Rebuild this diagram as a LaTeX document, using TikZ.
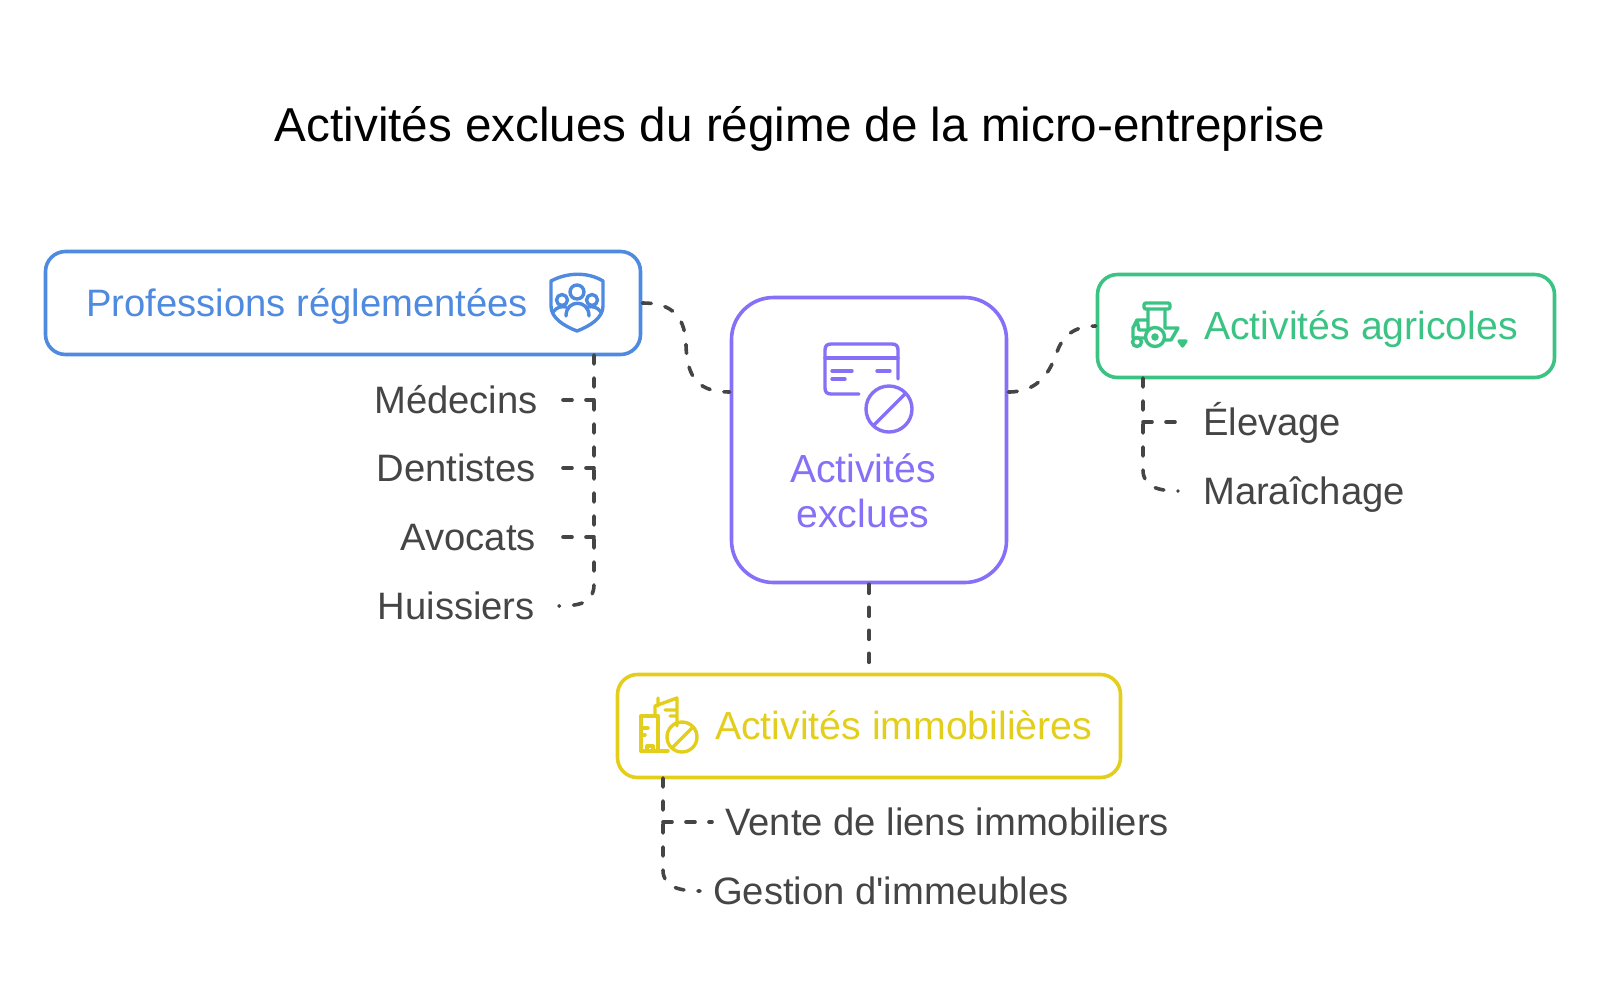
\documentclass[tikz,border=0pt]{standalone}
\usepackage{fontspec}
\setmainfont{Liberation Sans}[Ligatures=TeXOff]
\definecolor{cblue}{HTML}{4E8AE0}
\definecolor{cpurple}{HTML}{8570F7}
\definecolor{cgreen}{HTML}{3BC384}
\definecolor{cyellow}{HTML}{E3CE1C}
\definecolor{cgray}{HTML}{454545}
\tikzset{x=1pt,y=-1pt,
 boxb/.style={draw,line width=3.6pt,rounded corners=20pt,inner sep=0},
 conn/.style={draw=cgray,line width=3.6pt,line cap=round,dash pattern=on 9pt off 14pt},
 lab/.style={text=cgray,font=\fontsize{38.2}{45}\selectfont,inner sep=0},
 ttl/.style={font=\fontsize{47.6}{50}\selectfont,inner sep=0},
 hd/.style={font=\fontsize{38.2}{45}\selectfont,inner sep=0},
 hdb/.style={font=\fontsize{39.2}{45}\selectfont,inner sep=0},
 ic/.style={line width=3.4pt,line join=round,line cap=round}}
\begin{document}
\begin{tikzpicture}
\useasboundingbox (0,0) rectangle (1600,1005);
\node[ttl,anchor=base] (title) at (800,141) {Activités exclues du régime de la micro-entreprise};
\node[boxb,draw=cblue,minimum width=595pt,minimum height=103pt] (prof) at (343,303) {};
\node[boxb,draw=cpurple,rounded corners=42pt,minimum width=275pt,minimum height=285pt] (cen) at (869,440) {};
\node[boxb,draw=cgreen,minimum width=457pt,minimum height=103pt] (agr) at (1326,326) {};
\node[boxb,draw=cyellow,minimum width=503pt,minimum height=103pt] (imm) at (869,726) {};
\node[hd,text=cblue,anchor=base west] (tprof) at (86,316) {Professions réglementées};
\node[hdb,text=cgreen,anchor=base west] (tagr) at (1204,339) {Activités agricoles};
\node[hdb,text=cyellow,anchor=base west] (timm) at (715,739) {Activités immobilières};
\node[hdb,text=cpurple,align=center] (tcen) at (863,491) {Activités\\exclues};
\node[lab,anchor=base east] (m1) at (538,413) {Médecins};
\node[lab,anchor=base east] (m2) at (536,481) {Dentistes};
\node[lab,anchor=base east] (m3) at (536,550) {Avocats};
\node[lab,anchor=base east] (m4) at (535,619) {Huissiers};
\node[lab,anchor=base west] (a1) at (1203,435) {Élevage};
\node[lab,anchor=base west] (a2) at (1203,504) {Maraîchage};
\node[lab,anchor=base west] (i1) at (725,835) {Vente de liens immobiliers};
\node[lab,anchor=base west] (i2) at (713,904) {Gestion d'immeubles};
\coordinate (pb) at (594,355);
\coordinate (ab) at (1143,378);
\coordinate (ib) at (663,778);
\coordinate (pe1) at (563,400);
\coordinate (pe2) at (563,468);
\coordinate (pe3) at (563,537);
\coordinate (pe4) at (559,606);
\coordinate (ae1) at (1178,422);
\coordinate (ae2) at (1178,491);
\coordinate (ie1) at (712,822);
\coordinate (ie2) at (700,891);
\draw[conn] (prof.east) .. controls (665,303) and (685,310) .. (686,345) .. controls (687,380) and (700,392) .. (cen.west |- 0,392);
\draw[conn] (cen.east |- 0,392) .. controls (1040,392) and (1050,370) .. (1056,355) .. controls (1062,335) and (1075,326) .. (agr.west);
\draw[conn] (cen.south) -- (imm.north);
\draw[conn] (pb) -- (594,584) .. controls (594,600) and (585,606) .. (pe4);
\draw[conn] (pe1) -- (pb |- pe1);
\draw[conn] (pe2) -- (pb |- pe2);
\draw[conn] (pe3) -- (pb |- pe3);
\draw[conn] (ab) -- (1143,470) .. controls (1143,485) and (1155,491) .. (ae2);
\draw[conn] (ab |- ae1) -- (ae1);
\draw[conn] (ib) -- (663,870) .. controls (663,885) and (675,891) .. (ie2);
\draw[conn] (ib |- ie1) -- (ie1);
% shield icon
\begin{scope}[ic,draw=cblue]
\draw (551,281) .. controls (568,272) and (588,272) .. (603,281) -- (603,306) .. controls (603,318) and (590,326) .. (577,331) .. controls (564,326) and (551,318) .. (551,306) -- cycle;
\draw (577,292) circle (7) (562,300) circle (5.5) (592,300) circle (5.5);
\draw (566,316) .. controls (566,299) and (589,299) .. (589,316);
\draw (553,312) .. controls (557,307) and (561,306) .. (566,307) (601,312) .. controls (597,307) and (593,306) .. (588,307);
\end{scope}
% card icon
\begin{scope}[ic,draw=cpurple]
\draw (859,394) -- (831,394) .. controls (827,394) and (825,392) .. (825,388) -- (825,350) .. controls (825,346) and (827,344) .. (831,344) -- (892,344) .. controls (896,344) and (898,346) .. (898,350) -- (898,379);
\draw (825,358) -- (898,358) (832,371) -- (852,371) (832,379) -- (845,379) (877,371) -- (890,371);
\draw (889,409) circle (23) (874,425) -- (905,394);
\end{scope}
% tractor icon
\begin{scope}[ic,draw=cgreen]
\draw[rounded corners=2pt] (1144,303) rectangle (1170,309);
\draw (1148,309) -- (1148,330) (1165,309) -- (1165,328) (1148,320) -- (1137,320) -- (1133,328) -- (1133,338) -- (1145,338) (1137,320) -- (1139,330) -- (1148,330);
\draw (1155,337) circle (9.5) (1155,337) circle (2) (1137,342) circle (4.5);
\draw (1165,328) -- (1178,328) -- (1171,340) -- (1164,340);
\draw[fill=cgreen] (1179,341) -- (1186,341) -- (1182.5,346) -- cycle;
\end{scope}
% building icon
\begin{scope}[ic,draw=cyellow]
\draw (668,751) -- (641,751) -- (641,716) -- (658,716) -- (658,751);
\draw (641,728) -- (648,728) (641,735) -- (645,735) (647,751) -- (647,746) -- (653,746) -- (653,751);
\draw (655,715) -- (655,706) -- (677,698) -- (677,726) (658,706) -- (658,698) (665,710) -- (677,710) (670,716) -- (677,716);
\draw (682,737) circle (15) (673,747) -- (692,728);
\end{scope}
\end{tikzpicture}
\end{document}
